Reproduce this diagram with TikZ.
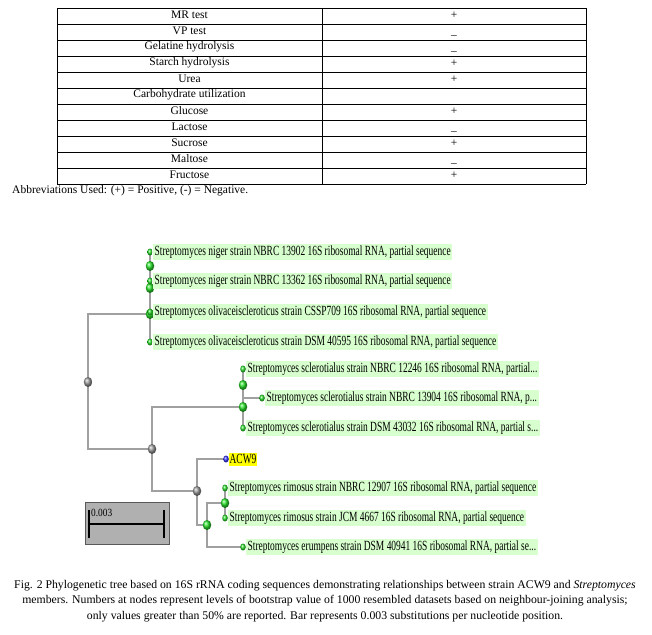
\documentclass[tikz,border=0pt]{standalone}
\usepackage{fontspec}
\setmainfont{Liberation Serif}
\newfontfamily\treefont{Liberation Serif}[FakeStretch=0.675]
\newfontfamily\barfont{Liberation Serif}[FakeStretch=0.85]
\usetikzlibrary{positioning,backgrounds,shapes.geometric}
\definecolor{hlgreen}{RGB}{216,255,206}
\definecolor{hlyellow}{RGB}{255,255,0}
\definecolor{edgegray}{RGB}{160,160,160}
\definecolor{ballgreen}{RGB}{40,225,40}
\definecolor{barbox}{RGB}{176,176,176}
\tikzset{
  cell/.style={font=\fontsize{11.5}{13}\selectfont,inner sep=0pt},
  rule/.style={line width=0.8pt},
  leaf/.style={ellipse,inner sep=0pt,minimum width=5.5pt,minimum height=7pt,ball color=ballgreen},
  inode/.style={ellipse,inner sep=0pt,minimum width=8.5pt,minimum height=10pt,ball color=ballgreen},
  gnode/.style={ellipse,inner sep=0pt,minimum width=8.5pt,minimum height=10pt,ball color=gray!80},
  bnode/.style={ellipse,inner sep=0pt,minimum width=5.5pt,minimum height=7pt,ball color=blue!80},
  lab/.style={fill=hlgreen,font=\treefont\fontsize{14}{16}\selectfont,inner xsep=1.5pt,inner ysep=0pt,minimum height=16pt},
  edge/.style={draw=edgegray,line width=1.2pt},
}
\begin{document}
\begin{tikzpicture}[x=1pt,y=-1pt]
\useasboundingbox (0,0) rectangle (652,634);
% table
\foreach \k in {0,...,11} \draw[rule] (57,{8+16*\k}) -- (586,{8+16*\k});
\draw[rule] (57,8) -- (57,184);
\draw[rule] (322,8) -- (322,184);
\draw[rule] (586,8) -- (586,184);
\foreach \t [count=\i] in {MR test,VP test,Gelatine hydrolysis,Starch hydrolysis,Urea,Carbohydrate utilization,Glucose,Lactose,Sucrose,Maltose,Fructose}
  \node[cell] (r\i) at (189.5,{16*\i-1.5}) {\t};
\foreach \i in {1,4,5,7,9,11} \node[cell] (v\i) at (454,{16*\i-1}) {+};
\foreach \i in {2,3,8,10} \node[cell] (v\i) at (454,{16*\i+5}) {\textendash};
\node[cell,anchor=west] (abbr) at (12,190.5) {Abbreviations Used: (+) = Positive, (-) = Negative.};
% tree
\node[gnode] (R) at (88,382) {};
\node[inode] (T3) at (150,314) {};
\node[inode] (T2) at (150,288) {};
\node[inode] (T1) at (150,266) {};
\node[leaf] (L1) at (150,252) {};
\node[leaf] (L2) at (150,281) {};
\node[leaf] (L3) at (150,312) {};
\node[leaf] (L4) at (150,342) {};
\node[gnode] (M) at (152,449) {};
\node[inode] (B) at (243,407) {};
\node[inode] (A) at (243,385) {};
\node[leaf] (S1) at (243,369) {};
\node[leaf] (S2) at (262,398) {};
\node[leaf] (S3) at (243,428) {};
\node[gnode] (G) at (197,491) {};
\node[bnode] (W) at (226,459) {};
\node[inode] (N) at (207,525) {};
\node[inode] (Q) at (225,503) {};
\node[leaf] (Q1) at (225,488) {};
\node[leaf] (Q2) at (225,518) {};
\node[leaf] (E) at (243,547) {};
\begin{scope}[on background layer]
\foreach \p/\c in {R/T3,R/M,T3/T2,T3/L4,T2/T1,T2/L3,T1/L1,T1/L2,M/B,M/G,B/A,B/S3,A/S1,A/S2,G/W,G/N,N/Q,N/E,Q/Q1,Q/Q2}
  \draw[edge] (\p.center) |- (\c.center);
\end{scope}
\node[lab,right=0pt of L1] (n1) {Streptomyces niger strain NBRC 13902 16S ribosomal RNA, partial sequence};
\node[lab,right=0pt of L2] (n2) {Streptomyces niger strain NBRC 13362 16S ribosomal RNA, partial sequence};
\node[lab,right=0pt of L3] (n3) {Streptomyces olivaceiscleroticus strain CSSP709 16S ribosomal RNA, partial sequence};
\node[lab,right=0pt of L4] (n4) {Streptomyces olivaceiscleroticus strain DSM 40595 16S ribosomal RNA, partial sequence};
\node[lab,right=0pt of S1] (s1) {Streptomyces sclerotialus strain NBRC 12246 16S ribosomal RNA, partial...};
\node[lab,right=0pt of S2] (s2) {Streptomyces sclerotialus strain NBRC 13904 16S ribosomal RNA, p...};
\node[lab,right=0pt of S3] (s3) {Streptomyces sclerotialus strain DSM 43032 16S ribosomal RNA, partial s...};
\node[lab,fill=hlyellow,minimum height=13pt,inner xsep=0.5pt,right=0pt of W] (w) {ACW9};
\node[lab,right=0pt of Q1] (q1) {Streptomyces rimosus strain NBRC 12907 16S ribosomal RNA, partial sequence};
\node[lab,right=0pt of Q2] (q2) {Streptomyces rimosus strain JCM 4667 16S ribosomal RNA, partial sequence};
\node[lab,right=0pt of E] (e) {Streptomyces erumpens strain DSM 40941 16S ribosomal RNA, partial se...};
% scale bar
\draw[draw=gray!70!black,fill=barbox] (85,502) rectangle (169,544);
\draw[line width=2pt] (89,510) -- (89,538) (89,524) -- (164,524) (164,510) -- (164,538);
\node[font=\barfont\fontsize{11}{12}\selectfont,inner sep=0pt,anchor=west] (sbl) at (91,513) {0.003};
% caption
\node[align=center,inner sep=0pt,font=\fontsize{11.75}{15.5}\selectfont] (cap) at (325,601)
  {Fig. 2 Phylogenetic tree based on 16S rRNA coding sequences demonstrating relationships between strain ACW9 and \textit{Streptomyces}\\
   members. Numbers at nodes represent levels of bootstrap value of 1000 resembled datasets based on neighbour-joining analysis;\\
   only values greater than 50\% are reported. Bar represents 0.003 substitutions per nucleotide position.};
\end{tikzpicture}
\end{document}
